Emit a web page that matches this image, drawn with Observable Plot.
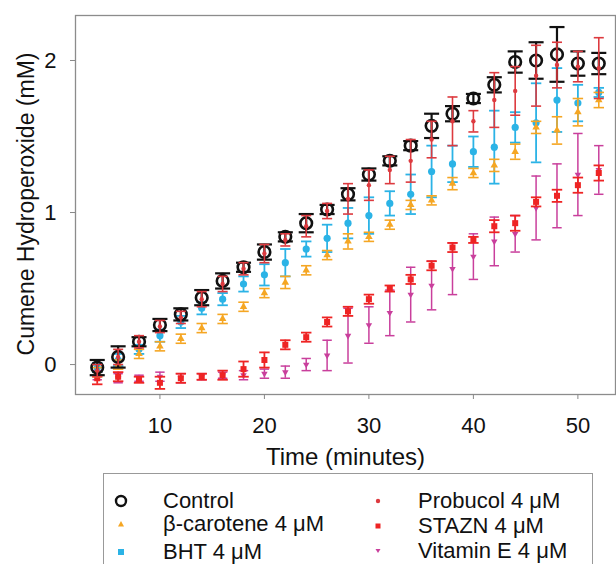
<!DOCTYPE html>
<html><head><meta charset="utf-8">
<script src="https://cdn.jsdelivr.net/npm/d3@7"></script>
<script src="https://cdn.jsdelivr.net/npm/@observablehq/plot@0.6"></script>
<style>
body{margin:0;background:#fff;font-family:"Liberation Sans",Arial,sans-serif;}
#wrap{position:relative;width:616px;height:564px;overflow:hidden;background:#fff;}
#legend{position:absolute;left:103px;top:473px;width:490px;height:130px;border:1.5px solid #999;box-sizing:border-box;}
.item{position:absolute;font-size:22px;line-height:1;color:#111;white-space:nowrap;}
.sym{position:absolute;}
</style></head>
<body><div id="wrap"><div id="chart"></div><div id="legend"></div></div>
<script>
// ---- data ----
const times = [4, 6, 8, 10, 12, 14, 16, 18, 20, 22, 24, 26, 28, 30, 32, 34, 36, 38, 40, 42, 44, 46, 48, 50, 52];

const controlVals = [-0.02, 0.05, 0.15, 0.26, 0.33, 0.44, 0.55, 0.64, 0.74, 0.84, 0.93, 1.02, 1.12, 1.25, 1.34, 1.44, 1.57, 1.65, 1.75, 1.84, 1.99, 2.00, 2.04, 1.98, 1.98];
const controlErr  = [0.05, 0.07, 0.03, 0.04, 0.04, 0.05, 0.05, 0.03, 0.05, 0.03, 0.06, 0.03, 0.04, 0.04, 0.03, 0.03, 0.08, 0.05, 0.03, 0.05, 0.07, 0.12, 0.18, 0.08, 0.07];

const caroteneVals = [-0.05, 0.00, 0.07, 0.12, 0.17, 0.24, 0.30, 0.38, 0.47, 0.54, 0.62, 0.72, 0.81, 0.84, 0.92, 1.05, 1.08, 1.19, 1.26, 1.31, 1.40, 1.56, 1.54, 1.66, 1.74];
const caroteneErr  = [0.03, 0.03, 0.03, 0.03, 0.03, 0.03, 0.03, 0.03, 0.03, 0.04, 0.03, 0.03, 0.05, 0.03, 0.03, 0.03, 0.03, 0.04, 0.03, 0.04, 0.05, 0.04, 0.09, 0.09, 0.05];

const bhtVals = [-0.02, 0.03, 0.10, 0.19, 0.28, 0.37, 0.43, 0.53, 0.59, 0.67, 0.76, 0.83, 0.93, 0.98, 1.06, 1.12, 1.27, 1.32, 1.40, 1.43, 1.56, 1.59, 1.74, 1.72, 1.79];
const bhtErr  = [0.03, 0.04, 0.03, 0.04, 0.04, 0.04, 0.04, 0.05, 0.07, 0.09, 0.05, 0.09, 0.10, 0.12, 0.08, 0.13, 0.17, 0.12, 0.10, 0.24, 0.10, 0.26, 0.21, 0.12, 0.03];

const probucolVals = [-0.04, 0.05, 0.15, 0.25, 0.31, 0.43, 0.53, 0.63, 0.73, 0.82, 0.91, 1.01, 1.09, 1.18, 1.28, 1.34, 1.48, 1.60, 1.60, 1.74, 1.80, 1.90, 1.97, 1.96, 1.95];
const probucolErr  = [0.04, 0.05, 0.04, 0.04, 0.04, 0.05, 0.05, 0.04, 0.06, 0.04, 0.07, 0.05, 0.10, 0.10, 0.09, 0.14, 0.12, 0.16, 0.07, 0.18, 0.16, 0.20, 0.15, 0.10, 0.20];

const staznVals = [-0.09, -0.08, -0.10, -0.12, -0.09, -0.08, -0.07, -0.03, 0.03, 0.13, 0.18, 0.28, 0.35, 0.43, 0.50, 0.56, 0.65, 0.77, 0.82, 0.91, 0.93, 1.07, 1.11, 1.18, 1.26];
const staznErr  = [0.04, 0.03, 0.02, 0.04, 0.03, 0.02, 0.03, 0.05, 0.05, 0.03, 0.03, 0.03, 0.03, 0.03, 0.02, 0.03, 0.03, 0.03, 0.02, 0.04, 0.05, 0.03, 0.04, 0.05, 0.05];

const vitEVals = [-0.07, -0.09, -0.09, -0.08, -0.09, -0.08, -0.07, -0.07, -0.06, -0.05, 0.00, 0.06, 0.19, 0.26, 0.34, 0.46, 0.52, 0.63, 0.71, 0.81, 0.86, 1.03, 1.11, 1.25, 1.28];
const vitEErr  = [0.03, 0.03, 0.02, 0.03, 0.03, 0.02, 0.02, 0.03, 0.03, 0.04, 0.04, 0.10, 0.18, 0.12, 0.15, 0.18, 0.16, 0.17, 0.15, 0.16, 0.12, 0.21, 0.21, 0.27, 0.16];

const xTicks = [10, 20, 30, 40, 50];
const yTicks = [0, 1, 2];
const seriesNames = ["Control", "β-carotene 4 μM", "BHT 4 μM", "Probucol 4 μM", "STAZN 4 μM", "Vitamin E 4 μM"];
const seriesColors = ["#111111", "#f5a623", "#2bb3e6", "#dd3a3f", "#ee2424", "#c93f9c"];

// ---- build tables ----
function table(vals, errs) { return times.map((t, i) => ({t, v: vals[i], e: errs[i]})); }
const control = table(controlVals, controlErr);
const carotene = table(caroteneVals, caroteneErr);
const bht = table(bhtVals, bhtErr);
const probucol = table(probucolVals, probucolErr);
const stazn = table(staznVals, staznErr);
const vitE = table(vitEVals, vitEErr);

function errorBars(data, color, half, sw) {
  return [
    Plot.ruleX(data, {x: "t", y1: d => d.v - d.e, y2: d => d.v + d.e, stroke: color, strokeWidth: sw}),
    Plot.link(data, {x1: d => d.t - half, x2: d => d.t + half, y1: d => d.v + d.e, y2: d => d.v + d.e, stroke: color, strokeWidth: sw}),
    Plot.link(data, {x1: d => d.t - half, x2: d => d.t + half, y1: d => d.v - d.e, y2: d => d.v - d.e, stroke: color, strokeWidth: sw})
  ];
}

const chart = Plot.plot({
  width: 616,
  height: 470,
  marginLeft: 75,
  marginRight: 1,
  marginTop: 15,
  marginBottom: 76,
  style: {fontFamily: "'Liberation Sans', Arial, sans-serif", background: "white", color: "#111"},
  x: {domain: [1.92, 53.6], axis: null},
  y: {domain: [-0.197, 2.296], axis: null},
  marks: [
    Plot.frame({stroke: "#8c8c8c", strokeWidth: 1.3}),
    Plot.axisX({ticks: xTicks, tickFormat: d => String(d), tickSize: 5, tickPadding: 18, fontSize: 22, label: null, stroke: "#888", fill: "#111"}),
    Plot.axisY({ticks: yTicks, tickFormat: d => String(d), tickSize: 5, tickPadding: 14, fontSize: 22, label: null, stroke: "#888", fill: "#111"}),
    Plot.text(["Time (minutes)"], {text: d => d, frameAnchor: "bottom", dy: 63, fontSize: 24, lineAnchor: "middle", fill: "#111"}),
    Plot.text(["Cumene Hydroperoxide (mM)"], {text: d => d, frameAnchor: "left", dx: -49, dy: -1, rotate: -90, fontSize: 23, lineAnchor: "middle", textAnchor: "middle", fill: "#111"}),

    ...errorBars(vitE, seriesColors[5], 0.45, 1.5),
    Plot.dot(vitE, {x: "t", y: "v", symbol: "triangle", r: 2.4, rotate: 180, fill: seriesColors[5]}),
    ...errorBars(stazn, seriesColors[4], 0.5, 1.8),
    Plot.dot(stazn, {x: "t", y: "v", symbol: "square", r: 3.4, fill: seriesColors[4]}),
    ...errorBars(bht, seriesColors[2], 0.5, 1.8),
    Plot.dot(bht, {x: "t", y: "v", symbol: "circle", r: 3.6, fill: seriesColors[2]}),
    ...errorBars(carotene, seriesColors[1], 0.5, 1.6),
    Plot.dot(carotene, {x: "t", y: "v", symbol: "triangle", r: 2.8, fill: seriesColors[1]}),
    ...errorBars(control, seriesColors[0], 0.72, 2.2),
    Plot.dot(control, {x: "t", y: "v", r: 5.8, stroke: seriesColors[0], strokeWidth: 2.6, fill: "none"}),
    ...errorBars(probucol, seriesColors[3], 0.48, 1.6),
    Plot.dot(probucol, {x: "t", y: "v", r: 2.2, fill: seriesColors[3]})
  ]
});
document.getElementById("chart").appendChild(chart);

// ---- legend ----
const legend = document.getElementById("legend");
const legendPos = [
  {sx: 17, tx: 59, y: 27}, {sx: 17, tx: 59, y: 50}, {sx: 17, tx: 59, y: 78},
  {sx: 274, tx: 314, y: 27}, {sx: 274, tx: 314, y: 52}, {sx: 274, tx: 314, y: 77}
];
const legendSymbols = [
  c => `<circle cx="8" cy="8" r="5" fill="none" stroke="${c}" stroke-width="2.4"/>`,
  c => `<path d="M8 5 L11 10.5 L5 10.5 Z" fill="${c}"/>`,
  c => `<rect x="5" y="5" width="6" height="6" fill="${c}"/>`,
  c => `<circle cx="8" cy="8" r="2.2" fill="${c}"/>`,
  c => `<rect x="5.5" y="5.5" width="5" height="5" fill="${c}"/>`,
  c => `<path d="M5.5 6 L10.5 6 L8 10 Z" fill="${c}"/>`
];
seriesNames.forEach((name, i) => {
  const p = legendPos[i];
  const s = document.createElement("div");
  s.className = "sym";
  s.style.left = (p.sx - 8) + "px";
  s.style.top = (p.y - 8) + "px";
  s.innerHTML = `<svg width="16" height="16">${legendSymbols[i](seriesColors[i])}</svg>`;
  legend.appendChild(s);
  const t = document.createElement("div");
  t.className = "item";
  t.style.left = p.tx + "px";
  t.style.top = (p.y - 11) + "px";
  t.textContent = name;
  legend.appendChild(t);
});
</script>
</body></html>
